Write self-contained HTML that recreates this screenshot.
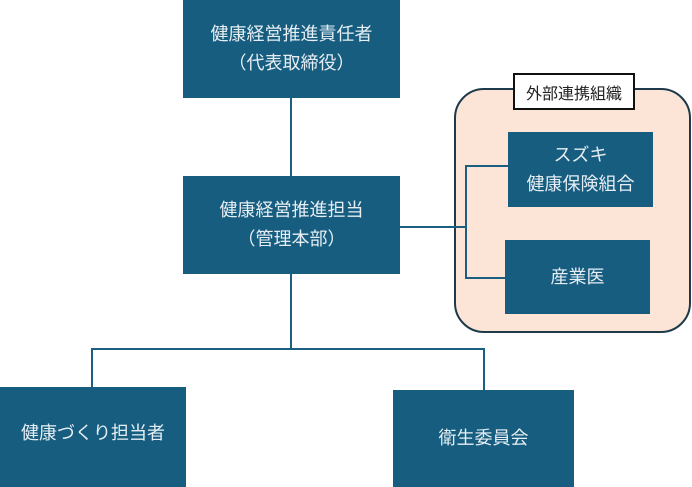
<!DOCTYPE html>
<html><head><meta charset="utf-8"><style>
body{margin:0;width:692px;height:487px;background:#fff;position:relative;overflow:hidden;font-family:"Liberation Sans","Noto Sans CJK JP",sans-serif;}
.b{position:absolute;background:#175d80;color:#e6eef3;font-size:18px;display:flex;align-items:center;justify-content:center;text-align:center;line-height:29px;}
.l{position:absolute;background:#1a5f82;}
</style></head><body>
<div class="l" style="left:290px;top:98px;width:2px;height:80px"></div>
<div class="l" style="left:290px;top:274px;width:2px;height:76px"></div>
<div class="l" style="left:91px;top:348px;width:394px;height:2px"></div>
<div class="l" style="left:91px;top:348px;width:2px;height:44px"></div>
<div class="l" style="left:483px;top:348px;width:2px;height:48px"></div>
<div style="position:absolute;left:454px;top:88px;width:233px;height:241px;border:2px solid #1c3a4a;border-radius:30px;background:#fce4d6"></div>
<div style="position:absolute;left:513px;top:73px;width:118px;height:33px;border:2px solid #111;background:#fff;font-size:16px;display:flex;align-items:center;justify-content:center;color:#222">外部連携組織</div>
<div class="l" style="left:400px;top:226px;width:67px;height:2px"></div>
<div class="l" style="left:465px;top:165px;width:2px;height:113px"></div>
<div class="l" style="left:465px;top:165px;width:45px;height:2px"></div>
<div class="l" style="left:465px;top:277px;width:42px;height:2px"></div>
<div class="b" style="left:183px;top:0;width:217px;height:98px">健康経営推進責任者<br>（代表取締役）</div>
<div class="b" style="left:183px;top:176px;width:217px;height:98px">健康経営推進担当<br>（管理本部）</div>
<div class="b" style="left:508px;top:132px;width:145px;height:75px">スズキ<br>健康保険組合</div>
<div class="b" style="left:505px;top:240px;width:145px;height:74px">産業医</div>
<div class="b" style="left:0;top:387px;width:186px;height:100px;padding-bottom:8px;box-sizing:border-box">健康づくり担当者</div>
<div class="b" style="left:393px;top:390px;width:181px;height:97px">衛生委員会</div>
</body></html>
